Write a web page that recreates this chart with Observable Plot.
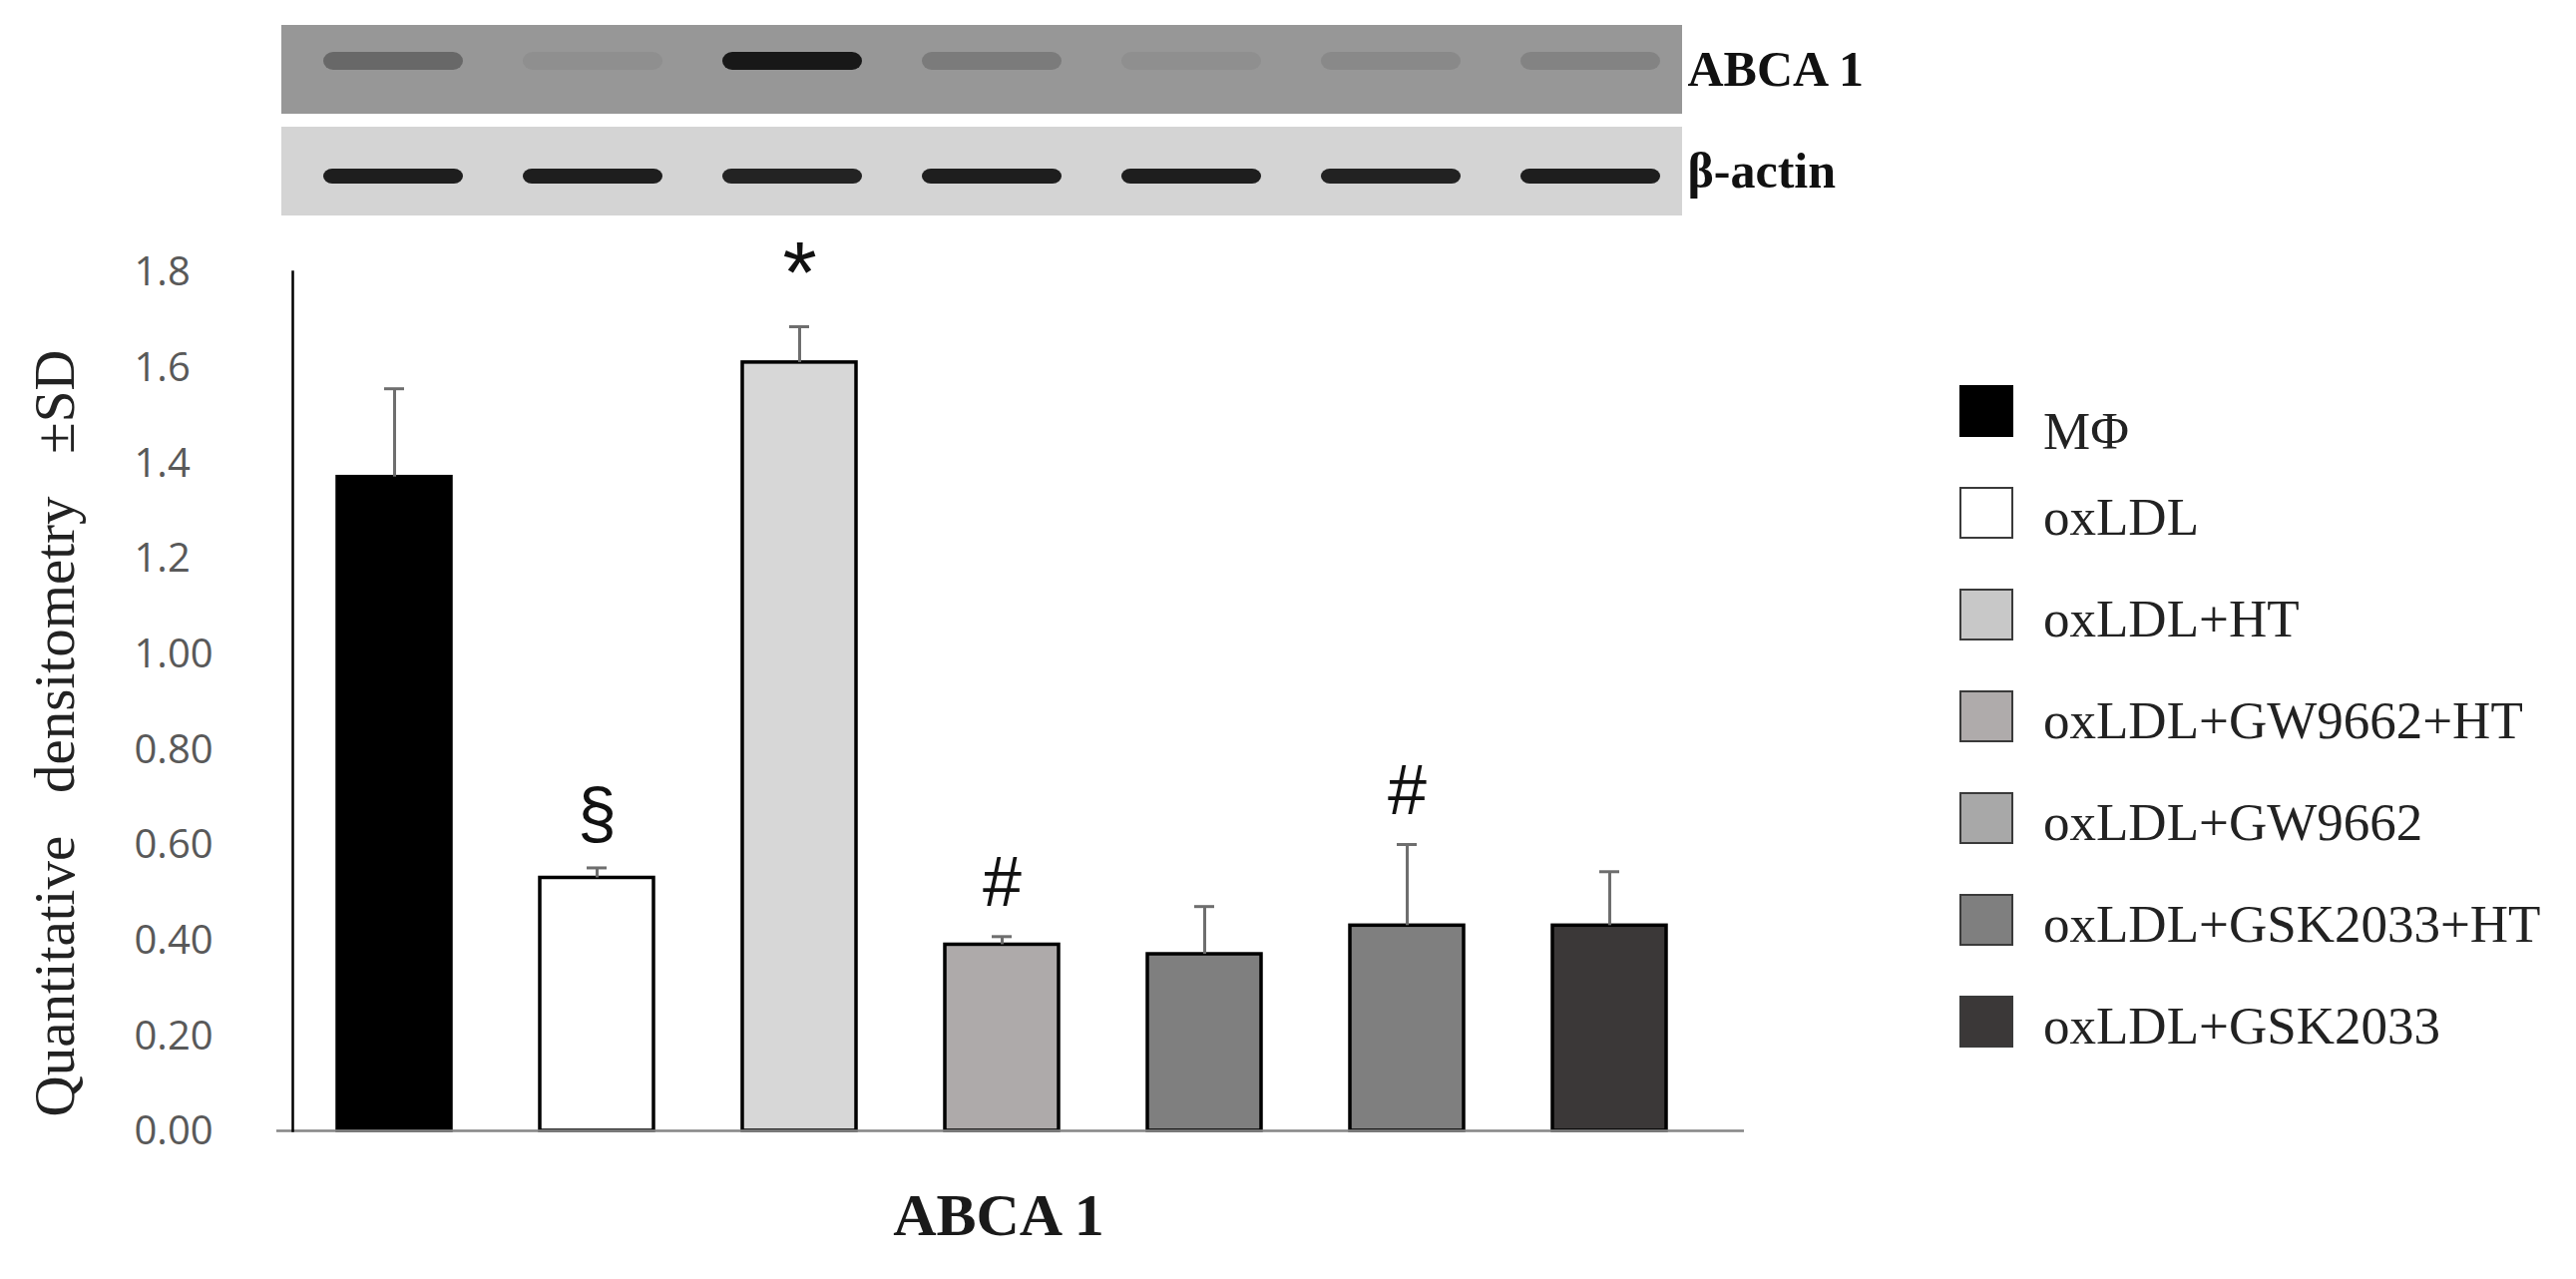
<!DOCTYPE html>
<html>
<head>
<meta charset="utf-8">
<script src="https://cdn.jsdelivr.net/npm/d3@7"></script>
<script src="https://cdn.jsdelivr.net/npm/@observablehq/plot@0.6"></script>
<style>
  html, body { margin: 0; padding: 0; background: #ffffff; }
  #root { position: relative; width: 2582px; height: 1282px; overflow: hidden; background: #fff; }
  #chart, #blot { position: absolute; left: 0; top: 0; }
  #chart svg, #blot svg { max-width: none; overflow: visible; background: transparent; }
  #legend { position: absolute; left: 1964px; top: 361px; font-family: "Liberation Serif", "Times New Roman", serif; font-size: 53px; color: #222; }
  .lg-row { display: flex; align-items: center; height: 102px; }
  .lg-sw { width: 50px; height: 48px; border: 2.5px solid #3a3a3a; flex: none; }
  .lg-tx { margin-left: 30px; white-space: nowrap; line-height: 1; position: relative; top: 4px; }
</style>
</head>
<body>
<div id="root">
  <div id="chart"></div>
  <div id="blot"></div>
  <div id="legend"></div>
</div>
<script>
// ---------- data ----------
const groups = ["MΦ", "oxLDL", "oxLDL+HT", "oxLDL+GW9662+HT", "oxLDL+GW9662", "oxLDL+GSK2033+HT", "oxLDL+GSK2033"];
const means = [1.37, 0.53, 1.61, 0.39, 0.37, 0.43, 0.43];
const sds = [0.185, 0.021, 0.075, 0.017, 0.10, 0.17, 0.113];
const sigMarks = ["", "§", "*", "#", "", "#", ""];
const barFills = ["#000000", "#ffffff", "#d7d7d7", "#aeaaaa", "#7f7f7f", "#7f7f7f", "#3b3838"];
const legendFills = ["#000000", "#ffffff", "#c8c8c8", "#afabab", "#a8a8a8", "#7f7f7f", "#3b3838"];
const yTicks = [0, 0.2, 0.4, 0.6, 0.8, 1.0, 1.2, 1.4, 1.6, 1.8];
const yTickLabels = ["0.00", "0.20", "0.40", "0.60", "0.80", "1.00", "1.2", "1.4", "1.6", "1.8"];
const yTitle = "Quantitative\u00a0\u00a0\u00a0densitometry\u00a0\u00a0\u00a0±SD";
const xTitle = "ABCA 1";

// western blot (relative band intensities per lane)
const lanes = ["1", "2", "3", "4", "5", "6", "7"];
const blotRows = ["ABCA 1", "β-actin"];
const blotBackground = ["#979797", "#d4d4d4"];
const abcaBand = [0.35, 0.06, 0.95, 0.2, 0.06, 0.1, 0.14];
const actinBand = [0.95, 0.95, 0.92, 0.95, 0.95, 0.93, 0.95];

// ---------- tables built from the arrays ----------
const bars = groups.map((g, i) => ({group: g, mean: means[i], sd: sds[i], top: means[i] + sds[i], sig: sigMarks[i], fill: barFills[i]}));
const rowsData = blotRows.map((r, i) => ({row: r, bg: blotBackground[i]}));
const abcaData = lanes.map((l, i) => ({lane: l, row: blotRows[0], v: abcaBand[i]}));
const actinData = lanes.map((l, i) => ({lane: l, row: blotRows[1], v: actinBand[i]}));

// ---------- main bar chart ----------
const chart = Plot.plot({
  width: 1900,
  height: 1282,
  marginLeft: 293,
  marginRight: 152,
  marginTop: 272,
  marginBottom: 149,
  style: {background: "transparent", overflow: "visible"},
  x: {type: "band", domain: groups, paddingInner: 0.44, paddingOuter: 0.293, align: 0.368, axis: null},
  y: {domain: [0, 1.8], axis: null},
  marks: [
    Plot.barY(bars, {x: "group", y: "mean", fill: "fill", stroke: "#000", strokeWidth: 3.5}),
    Plot.ruleX(bars, {x: "group", y1: "mean", y2: "top", stroke: "#6e6e6e", strokeWidth: 3}),
    Plot.tickY(bars, {x: "group", y: "top", stroke: "#6e6e6e", strokeWidth: 3, insetLeft: 47, insetRight: 47}),
    Plot.text(bars.filter(d => d.sig), {x: "group", y: "top", text: "sig", dy: -53, fontSize: d => d.sig === "*" ? 88 : 70, fontFamily: "Liberation Sans", fill: "#111"}),
    Plot.ruleY([0], {stroke: "#858585", strokeWidth: 2.5, insetLeft: -16}),
    Plot.frame({anchor: "left", stroke: "#000", strokeWidth: 2.5}),
    Plot.axisY(yTicks, {
      tickSize: 0, tickPadding: 0, textAnchor: "start", dx: -159, dy: 1,
      tickFormat: d => yTickLabels[yTicks.findIndex(t => Math.abs(t - d) < 1e-9)],
      fontSize: 40, fontFamily: "Open Sans", fill: "#595959", label: null
    }),
    Plot.text([yTitle], {frameAnchor: "left", textAnchor: "middle", lineAnchor: "middle", rotate: -90, dx: -238, dy: 32, fontSize: 57, fontFamily: "Liberation Serif", fill: "#222"}),
    Plot.text([xTitle], {frameAnchor: "bottom", textAnchor: "middle", dx: -20, dy: 104, fontSize: 60, fontWeight: "bold", fontFamily: "Liberation Serif", fill: "#1a1a1a"})
  ]
});
document.getElementById("chart").appendChild(chart);

// ---------- western blot strips ----------
const blot = Plot.plot({
  width: 1900,
  height: 240,
  marginLeft: 282,
  marginRight: 214,
  marginTop: 25,
  marginBottom: 23,
  style: {background: "transparent", overflow: "visible"},
  x: {type: "band", domain: lanes, paddingInner: 0.3, paddingOuter: 0.15, align: 0.66, axis: null},
  y: {type: "band", domain: blotRows, paddingInner: 0.126, paddingOuter: 0, axis: null},
  marks: [
    Plot.cell(rowsData, {y: "row", fill: "bg"}),
    Plot.cell(abcaData, {x: "lane", y: "row", fill: "#111", fillOpacity: "v", insetTop: 27, insetBottom: 44, rx: 10}),
    Plot.cell(actinData, {x: "lane", y: "row", fill: "#141414", fillOpacity: "v", insetTop: 42, insetBottom: 32, rx: 9}),
    Plot.axisY({anchor: "right", tickSize: 0, tickPadding: 5, fontSize: 50, fontWeight: "bold", fontFamily: "Liberation Serif", fill: "#111", label: null})
  ]
});
document.getElementById("blot").appendChild(blot);

// ---------- legend ----------
const legend = document.getElementById("legend");
groups.forEach((g, i) => {
  const row = document.createElement("div");
  row.className = "lg-row";
  const sw = document.createElement("div");
  sw.className = "lg-sw";
  sw.style.background = legendFills[i];
  if (i === 0) sw.style.borderColor = "#000";
  const tx = document.createElement("div");
  tx.className = "lg-tx";
  tx.textContent = g;
  if (i === 0) tx.style.top = "20px";
  row.appendChild(sw);
  row.appendChild(tx);
  legend.appendChild(row);
});
</script>
</body>
</html>
